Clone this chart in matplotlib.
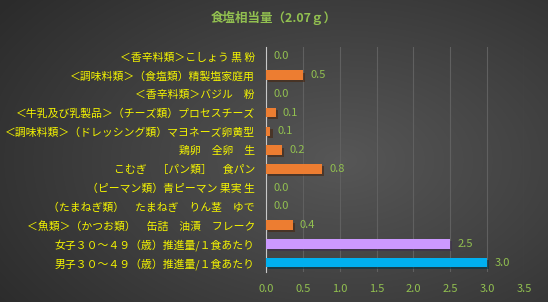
import numpy as np
import matplotlib
matplotlib.use('Agg')
import matplotlib.pyplot as plt
import matplotlib.patheffects as pe

plt.rcParams['font.family'] = ['Noto Sans CJK JP', 'DejaVu Sans']

title = '食塩相当量（2.07ｇ）'
labels = [
    '＜香辛料類＞こしょう 黒 粉',
    '＜調味料類＞（食塩類）精製塩家庭用',
    '＜香辛料類＞バジル　粉',
    '＜牛乳及び乳製品＞（チーズ類）プロセスチーズ',
    '＜調味料類＞（ドレッシング類）マヨネーズ卵黄型',
    '鶏卵　全卵　生',
    'こむぎ　［パン類］　食パン',
    '（ピーマン類）青ピーマン 果実 生',
    '（たまねぎ類）　たまねぎ　りん茎　ゆで',
    '＜魚類＞（かつお類）　缶詰　油漬　フレーク',
    '女子３０～４９（歳）推進量/１食あたり',
    '男子３０～４９（歳）推進量/１食あたり',
]
values = [0.0, 0.5, 0.0, 0.13, 0.06, 0.22, 0.76, 0.0, 0.0, 0.36, 2.5, 3.0]
value_text = ['0.0', '0.5', '0.0', '0.1', '0.1', '0.2', '0.8', '0.0', '0.0', '0.4', '2.5', '3.0']
colors = ['#ed7d31'] * 10 + ['#cc99ff', '#00b0f0']

yellow = '#f5f500'
green = '#92c050'

fig = plt.figure(figsize=(5.48, 3.02), dpi=100)

# dark radial background
bg = fig.add_axes([0, 0, 1, 1], zorder=-10)
yy, xx = np.mgrid[0:302, 0:548]
r = np.sqrt(((xx - 340) / 420.0) ** 2 + ((yy - 160) / 260.0) ** 2)
shade = np.clip(0.34 - 0.17 * r, 0.17, 0.34)
bg.imshow(np.dstack([shade] * 3), aspect='auto', extent=[0, 1, 0, 1])
bg.axis('off')

ax = fig.add_axes([266 / 548, 1 - 272 / 302, (524 - 266) / 548, (272 - 47) / 302])
ax.patch.set_alpha(0)
y = np.arange(len(labels))
bars = ax.barh(y, values, height=0.5, color=colors, zorder=3)
for b in bars:
    b.set_path_effects([pe.SimplePatchShadow(offset=(1.5, -1.5), alpha=0.6), pe.Normal()])

for yi, v, t in zip(y, values, value_text):
    ax.text(v + 0.1, yi, t, color=green, fontsize=8, va='center', ha='left')

ax.set_xlim(0, 3.5)
ax.set_ylim(11.5, -0.5)
ax.set_xticks(np.arange(0, 3.51, 0.5))
ax.set_xticklabels(['%.1f' % t for t in np.arange(0, 3.51, 0.5)], color=green, fontsize=8)
ax.set_yticks(y)
ax.set_yticklabels(labels, color=yellow, fontsize=7.8)
ax.tick_params(axis='both', length=0)
ax.tick_params(axis='y', pad=8)
ax.tick_params(axis='x', pad=9)
ax.grid(axis='x', color='#606060', linewidth=0.8, zorder=0)
for s in ['top', 'right', 'bottom']:
    ax.spines[s].set_visible(False)
ax.spines['left'].set_color('#c8c8c8')
ax.spines['left'].set_linewidth(0.8)

fig.text(274 / 548, 1 - 18 / 302, title, color=green, fontsize=9, fontweight='bold',
         ha='center', va='center')

fig.savefig('out.png', dpi=100)
